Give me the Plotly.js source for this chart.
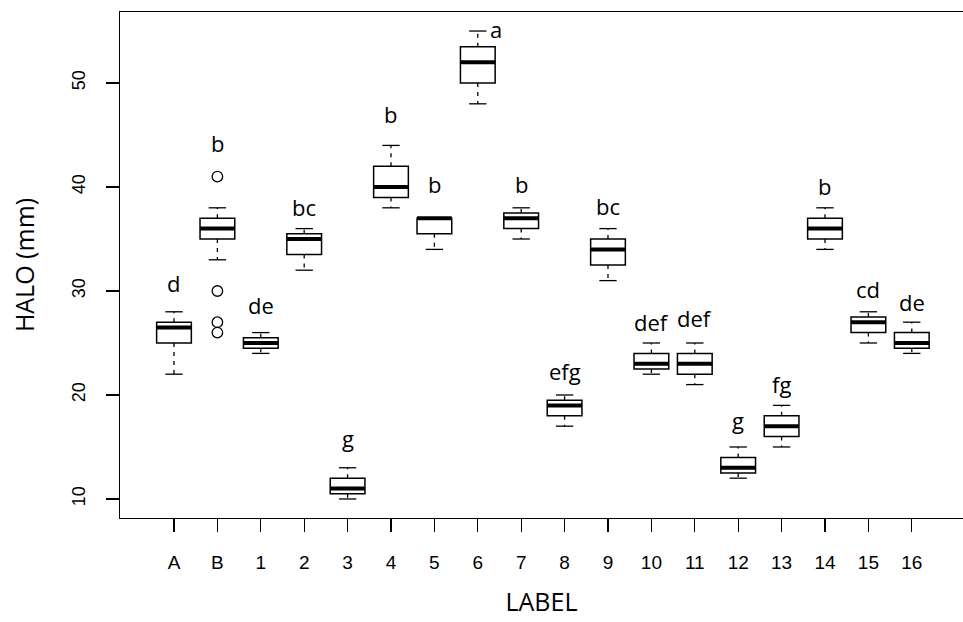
<!DOCTYPE html>
<html>
<head>
<meta charset="utf-8">
<script src="https://cdn.plot.ly/plotly-3.0.1.min.js"></script>
<style>html,body{margin:0;padding:0;background:#fff}#chart{width:963px;height:622px}</style>
</head>
<body>
<div id="chart"></div>
<script>
// ---- data ----
var categories = ['A','B','1','2','3','4','5','6','7','8','9','10','11','12','13','14','15','16'];
var lowerWhisker = [22, 33, 24, 32, 10, 38, 34, 48, 35, 17, 31, 22, 21, 12, 15, 34, 25, 24];
var q1Values     = [25, 35, 24.5, 33.5, 10.5, 39, 35.5, 50, 36, 18, 32.5, 22.5, 22, 12.5, 16, 35, 26, 24.5];
var medianValues = [26.5, 36, 25, 35, 11, 40, 37, 52, 37, 19, 34, 23, 23, 13, 17, 36, 27, 25];
var q3Values     = [27, 37, 25.5, 35.5, 12, 42, 37, 53.5, 37.5, 19.5, 35, 24, 24, 14, 18, 37, 27.5, 26];
var upperWhisker = [28, 38, 26, 36, 13, 44, 37, 55, 38, 20, 36, 25, 25, 15, 19, 38, 28, 27];
var outlierGroup = ['B', 'B', 'B', 'B'];
var outlierValues = [41, 30, 27, 26];
var groupLetters = ['d','b','de','bc','g','b','b','a','b','efg','bc','def','def','g','fg','b','cd','de'];
var letterY = [29.8, 43.3, 27.7, 37.1, 14.9, 46.1, 39.3, 54.2, 39.3, 21.3, 37.2, 26.1, 26.4, 16.6, 20.1, 39.1, 29.2, 28.0];
var letterXOffset = [0,0,0,0,0,0,0,0.42,0,0,0,0,0,0,0,0,0,0];

// ---- styles ----
var BOXW = 0.8, CAPW = 0.4;
var idx = categories.map(function(c, i){ return i; });

var traces = [];
// boxes (whiskers drawn separately, dashed)
traces.push({
  type: 'box',
  x: idx,
  q1: q1Values,
  median: medianValues,
  q3: q3Values,
  lowerfence: q1Values,
  upperfence: q3Values,
  boxpoints: false,
  width: BOXW,
  whiskerwidth: 0,
  fillcolor: 'white',
  line: {color: 'black', width: 1.5},
  hoverinfo: 'skip',
  showlegend: false
});

// dashed whiskers
var wx = [], wy = [];
idx.forEach(function(i){
  wx.push(i, i, null, i, i, null);
  wy.push(q3Values[i], upperWhisker[i], null, q1Values[i], lowerWhisker[i], null);
});
traces.push({type:'scatter', mode:'lines', x: wx, y: wy,
  line:{color:'black', width:1.3, dash:'4px,5px'}, hoverinfo:'skip', showlegend:false});

// staples
var sx = [], sy = [];
idx.forEach(function(i){
  sx.push(i - CAPW/2, i + CAPW/2, null, i - CAPW/2, i + CAPW/2, null);
  sy.push(upperWhisker[i], upperWhisker[i], null, lowerWhisker[i], lowerWhisker[i], null);
});
traces.push({type:'scatter', mode:'lines', x: sx, y: sy,
  line:{color:'black', width:1.3}, hoverinfo:'skip', showlegend:false});

// thick medians
var mx = [], my = [];
idx.forEach(function(i){
  mx.push(i - BOXW/2, i + BOXW/2, null);
  my.push(medianValues[i], medianValues[i], null);
});
traces.push({type:'scatter', mode:'lines', x: mx, y: my,
  line:{color:'black', width:4}, hoverinfo:'skip', showlegend:false});

// outliers
traces.push({type:'scatter', mode:'markers',
  x: outlierGroup.map(function(g){ return categories.indexOf(g); }),
  y: outlierValues,
  marker:{symbol:'circle-open', size:10.5, color:'black', line:{width:1.3, color:'black'}},
  hoverinfo:'skip', showlegend:false});

// group letters
var annotations = groupLetters.map(function(t, i){
  return {x: i + letterXOffset[i], y: letterY[i], xref:'x', yref:'y', text: t,
    showarrow:false, yanchor:'bottom', xanchor:'center', yshift:-7,
    font:{family:'"Open Sans", "Noto Sans", sans-serif', size:22, color:'black'}};
});

var xTickFont = {family:'"Liberation Sans Narrow", "Liberation Sans", Arial, sans-serif', size:19, color:'black'};
var yTickFont = {family:'"Liberation Sans Narrow", "Liberation Sans", Arial, sans-serif', size:18, color:'black'};
var titleFont = {family:'"Open Sans", "Noto Sans", sans-serif', size:25, color:'black'};

var layout = {
  width: 963, height: 622,
  margin: {l:120, r:0, t:12, b:104, pad:0},
  paper_bgcolor:'white', plot_bgcolor:'white',
  showlegend:false,
  xaxis: {
    range: [-1.244, 18.18],
    tickmode:'array', tickvals: idx, ticktext: categories,
    showgrid:false, zeroline:false,
    showline:true, mirror:true, linecolor:'black', linewidth:1.3,
    ticks:'outside', ticklen:13, tickwidth:1.3, tickcolor:'black',
    ticklabelstandoff: 14,
    tickfont: xTickFont,
    title:{text:'LABEL', font:titleFont, standoff:21},
    automargin:false, fixedrange:true
  },
  yaxis: {
    range: [8.17, 56.83],
    tickmode:'array', tickvals:[10,20,30,40,50],
    showgrid:false, zeroline:false,
    showline:true, mirror:false, linecolor:'black', linewidth:1.3,
    ticks:'outside', ticklen:13, tickwidth:1.3, tickcolor:'black',
    tickangle:-90, ticklabelstandoff: 14,
    tickfont: yTickFont,
    title:{text:'HALO (mm)', font:titleFont, standoff:26},
    automargin:false, fixedrange:true
  },
  annotations: annotations
};

Plotly.newPlot('chart', traces, layout, {displayModeBar:false, staticPlot:true});
</script>
</body>
</html>
